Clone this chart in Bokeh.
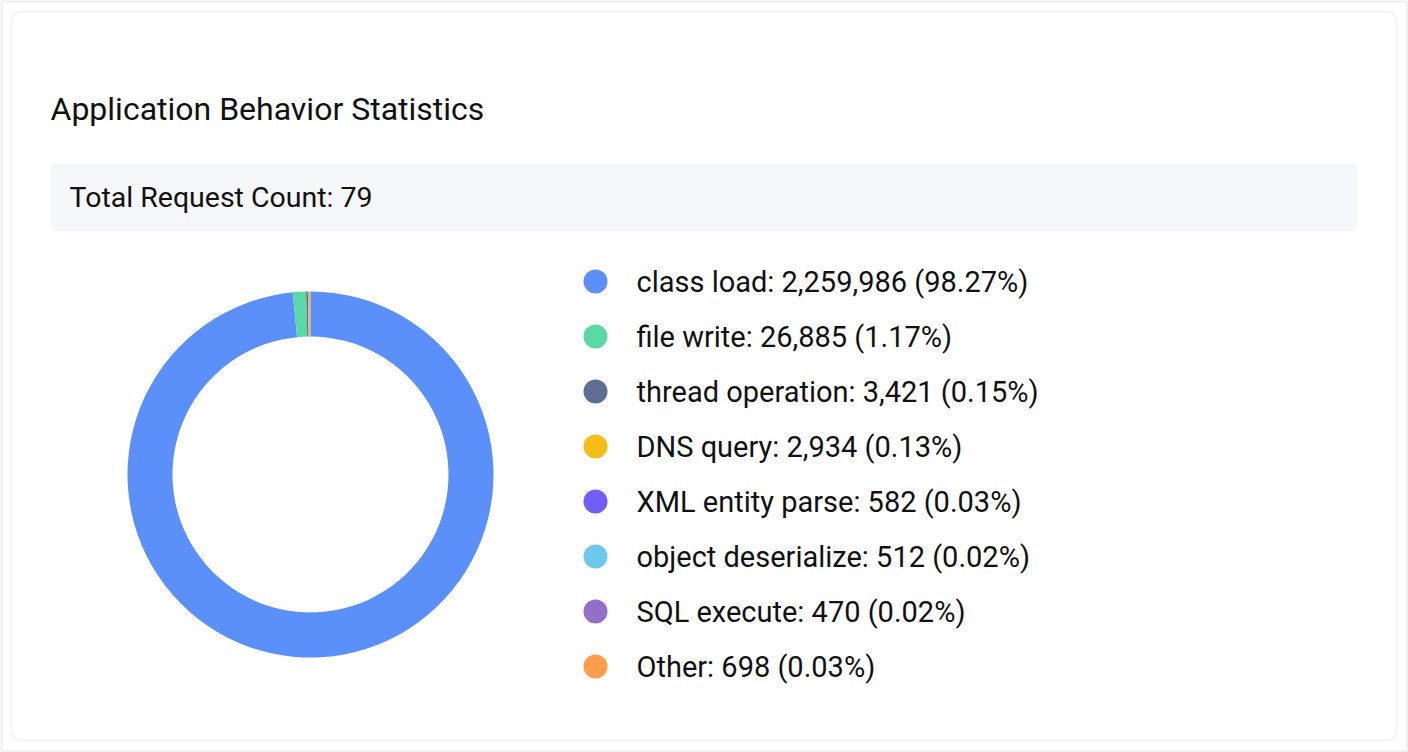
import numpy as np
from bokeh.plotting import figure
from bokeh.models import Range1d, BoxAnnotation
from bokeh.core.properties import value
from bokeh.embed import file_html
from bokeh.resources import INLINE

# ---- data ----
title = "Application Behavior Statistics"
total_requests = 79
categories = ["class load", "file write", "thread operation", "DNS query",
              "XML entity parse", "object deserialize", "SQL execute", "Other"]
counts = [2259986, 26885, 3421, 2934, 582, 512, 470, 698]
shares = [98.27, 1.17, 0.15, 0.13, 0.03, 0.02, 0.02, 0.03]  # percent of all calls
colors = ["#5B8FF9", "#5AD8A6", "#5D7092", "#F6BD16",
          "#6F5EF9", "#6DC8EC", "#9270CA", "#FF9D4D"]

W, H = 1408, 752
FONT = value("Roboto")


def Y(py):
    # page-style y (from top) to data y
    return H - py


p = figure(width=W, height=H, x_range=Range1d(0, W), y_range=Range1d(0, H),
           output_backend="svg", toolbar_location=None, min_border=0,
           background_fill_color="white", border_fill_color="white")
p.axis.visible = False
p.grid.visible = False
p.outline_line_color = None

# outer frame and card
p.add_layout(BoxAnnotation(left=1, right=W - 1, bottom=1, top=H - 1,
                           fill_color="#ffffff", fill_alpha=1,
                           line_color="#d0d0d0", line_width=3, level="underlay"))
p.add_layout(BoxAnnotation(left=11, right=1396, bottom=Y(740), top=Y(11),
                           fill_color="#ffffff", fill_alpha=1,
                           line_color="#dadada", line_width=2, border_radius=10,
                           level="underlay"))
# summary strip
p.add_layout(BoxAnnotation(left=50, right=1357, bottom=Y(231), top=Y(163),
                           fill_color="#f6f7f9", fill_alpha=1,
                           line_color=None, border_radius=6, level="underlay"))

p.text(x=[50], y=[Y(108)], text=[title], text_font=FONT,
       text_font_size="32px", text_color="#111111", text_baseline="middle")
p.text(x=[69], y=[Y(197)], text=[f"Total Request Count: {total_requests}"],
       text_font=FONT, text_font_size="28.5px", text_color="#111111",
       text_baseline="middle")

# donut, clockwise from 12 o'clock
vals = np.array(counts, dtype=float)
frac = vals / vals.sum()
ends = np.cumsum(frac)
starts = ends - frac
start_ang = np.pi / 2 - 2 * np.pi * starts
end_ang = np.pi / 2 - 2 * np.pi * ends
cx, cy = 310, Y(474)
p.annular_wedge(x=cx, y=cy, inner_radius=138, outer_radius=183,
                start_angle=start_ang, end_angle=end_ang, direction="clock",
                fill_color=colors, line_color=None)

# legend
labels = [f"{c}: {v:,} ({s:.2f}%)" for c, v, s in zip(categories, counts, shares)]
row_y = [Y(281 + 55 * i) for i in range(len(categories))]
p.scatter(x=[595] * len(categories), y=row_y, size=24, marker="circle",
          fill_color=colors, line_color=None)
p.text(x=[636] * len(categories), y=row_y, text=labels, text_font=FONT,
       text_font_size="29px", text_color="#111111", text_baseline="middle")

open("out.html", "w").write(file_html(p, INLINE))
